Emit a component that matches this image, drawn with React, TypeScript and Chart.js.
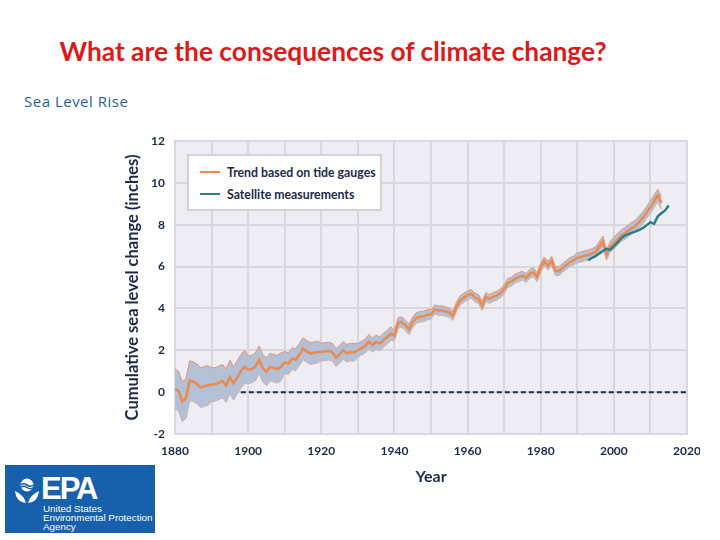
import React, { useEffect, useRef } from "react";
import { Chart, registerables } from "chart.js";

Chart.register(...registerables);

// Annual sea level trend from tide gauges, 1880–2013 (inches)
const TREND_START_YEAR = 1880;
const trendValues = [
  0.15, 0.05, -0.45, -0.3, 0.55, 0.5, 0.4, 0.22, 0.28, 0.32,
  0.36, 0.37, 0.45, 0.52, 0.32, 0.73, 0.42, 0.7, 1.0, 1.2,
  1.08, 1.1, 1.22, 1.55, 1.15, 0.97, 1.2, 1.15, 1.1, 1.22,
  1.42, 1.36, 1.6, 1.55, 1.8, 2.08, 1.95, 1.85, 1.88, 1.92,
  1.92, 1.94, 1.96, 1.92, 1.66, 1.8, 2.0, 1.86, 1.92, 1.9,
  2.0, 2.1, 2.2, 2.42, 2.25, 2.4, 2.32, 2.48, 2.62, 2.8,
  2.7, 3.3, 3.35, 3.2, 3.0, 3.35, 3.55, 3.6, 3.62, 3.7,
  3.72, 3.95, 3.9, 3.9, 3.85, 3.8, 3.65, 4.1, 4.38, 4.52,
  4.62, 4.7, 4.52, 4.45, 4.12, 4.55, 4.46, 4.55, 4.62, 4.72,
  4.92, 5.22, 5.28, 5.43, 5.5, 5.57, 5.45, 5.65, 5.73, 5.5,
  5.95, 6.25, 6.05, 6.28, 5.8, 5.78, 5.95, 6.08, 6.22, 6.3,
  6.42, 6.45, 6.52, 6.55, 6.62, 6.7, 6.95, 7.22, 6.55, 6.95,
  7.12, 7.3, 7.48, 7.58, 7.72, 7.85, 7.95, 8.15, 8.35, 8.6,
  8.85, 9.12, 9.4, 9.05,
];

// Half-width of the uncertainty band for each decade (1880s … 2010s)
const bandHalfWidthByDecade = [0.95, 0.8, 0.66, 0.52, 0.42, 0.33, 0.25, 0.22, 0.21, 0.21, 0.21, 0.24, 0.28, 0.3];

// Satellite altimetry, 1993–2015 (inches)
const SAT_START_YEAR = 1993;
const satelliteValues = [
  6.3, 6.42, 6.5, 6.62, 6.75, 6.85, 6.8, 6.98, 7.15, 7.35,
  7.48, 7.55, 7.62, 7.68, 7.75, 7.85, 7.98, 8.12, 8.04, 8.4,
  8.55, 8.68, 8.92,
];

// Reference zero line
const zeroLineYears = [1898, 2020];

const xTickLabels = ["1880", "1900", "1920", "1940", "1960", "1980", "2000", "2020"];
const yTickLabels = ["-2", "0", "2", "4", "6", "8", "10", "12"];

const NAVY = "#1c2a4c";
const ORANGE = "#ec8a4e";
const TEAL = "#2b7f8d";
const BAND_FILL = "#b3c0d5";
const BAND_EDGE = "rgba(228,140,100,0.85)";
const GRID = "#d9d7de";
const PLOT_BG = "#efedf4";

const plotBackground = {
  id: "plotBackground",
  beforeDraw(chart: any) {
    const { ctx, chartArea } = chart;
    if (!chartArea) return;
    ctx.save();
    ctx.fillStyle = PLOT_BG;
    ctx.fillRect(chartArea.left, chartArea.top, chartArea.right - chartArea.left, chartArea.bottom - chartArea.top);
    ctx.restore();
  },
};

function SeaLevelChart() {
  const canvasRef = useRef<HTMLCanvasElement | null>(null);

  useEffect(() => {
    if (!canvasRef.current) return;

    const trend = trendValues.map((v, i) => ({ x: TREND_START_YEAR + i, y: v }));
    const upper = trendValues.map((v, i) => ({
      x: TREND_START_YEAR + i,
      y: v + bandHalfWidthByDecade[Math.floor(i / 10)],
    }));
    const lower = trendValues.map((v, i) => ({
      x: TREND_START_YEAR + i,
      y: v - bandHalfWidthByDecade[Math.floor(i / 10)],
    }));
    const satellite = satelliteValues.map((v, i) => ({ x: SAT_START_YEAR + i, y: v }));
    const zero = zeroLineYears.map((yr) => ({ x: yr, y: 0 }));

    const tickFont = { family: "Lato", weight: "bold" as const, size: 12 };

    const chart = new Chart(canvasRef.current, {
      type: "line",
      data: {
        datasets: [
          {
            label: "upper",
            data: upper,
            borderColor: BAND_EDGE,
            borderWidth: 1,
            backgroundColor: BAND_FILL,
            fill: "+1",
            pointRadius: 0,
            tension: 0,
            order: 10,
          },
          {
            label: "lower",
            data: lower,
            borderColor: BAND_EDGE,
            borderWidth: 1,
            fill: false,
            pointRadius: 0,
            tension: 0,
            order: 10,
          },
          {
            label: "Trend based on tide gauges",
            data: trend,
            borderColor: ORANGE,
            borderWidth: 2.5,
            fill: false,
            pointRadius: 0,
            tension: 0,
            order: 2,
          },
          {
            label: "Satellite measurements",
            data: satellite,
            borderColor: TEAL,
            borderWidth: 2.5,
            fill: false,
            pointRadius: 0,
            tension: 0,
            order: 1,
          },
          {
            label: "zero",
            data: zero,
            borderColor: NAVY,
            borderWidth: 2,
            borderDash: [5, 3],
            fill: false,
            pointRadius: 0,
            order: 3,
          },
        ],
      },
      options: {
        responsive: false,
        animation: false,
        events: [],
        layout: { padding: { left: 0, top: 11, right: 13, bottom: 0 } },
        plugins: {
          legend: { display: false },
          tooltip: { enabled: false },
        },
        scales: {
          x: {
            type: "linear",
            min: 1880,
            max: 2020,
            ticks: {
              stepSize: 10,
              padding: 10,
              color: NAVY,
              font: tickFont,
              maxRotation: 0,
              autoSkip: false,
              callback: (value: any) => {
                const s = String(value);
                return xTickLabels.includes(s) ? s : "";
              },
            },
            grid: { color: GRID, lineWidth: 2, drawTicks: false },
            border: { display: true, color: GRID, width: 2 },
            title: {
              display: true,
              text: "Year",
              color: NAVY,
              font: { family: "Lato", weight: "bold", size: 16 },
              padding: { top: 4, bottom: 4 },
            },
            afterFit: (scale: any) => {
              scale.height = 56;
              scale.paddingLeft = 0;
              scale.paddingRight = 0;
            },
          },
          y: {
            min: -2,
            max: 12,
            ticks: {
              stepSize: 2,
              padding: 10,
              color: NAVY,
              font: tickFont,
              callback: (value: any) => {
                const s = String(value);
                return yTickLabels.includes(s) ? s : "";
              },
            },
            grid: { color: GRID, lineWidth: 2, drawTicks: false },
            border: { display: true, color: GRID, width: 2 },
            title: {
              display: true,
              text: "Cumulative sea level change (inches)",
              color: NAVY,
              font: { family: "Lato", weight: "bold", size: 16.5 },
              padding: { top: 3, bottom: 3 },
            },
            afterFit: (scale: any) => {
              scale.width = 55;
              scale.paddingTop = 0;
              scale.paddingBottom = 0;
            },
          },
        },
      },
      plugins: [plotBackground],
    });

    return () => chart.destroy();
  }, []);

  return <canvas ref={canvasRef} width={580} height={360} />;
}

function LegendBox() {
  const row = (color: string, text: string, top: number) => (
    <div style={{ position: "absolute", left: 11, top, display: "flex", alignItems: "center", height: 14 }}>
      <div style={{ width: 20, height: 2.5, background: color }} />
      <span
        style={{
          marginLeft: 7,
          fontFamily: "Lato",
          fontWeight: 700,
          fontSize: 12.3,
          color: NAVY,
          whiteSpace: "nowrap",
        }}
      >
        {text}
      </span>
    </div>
  );
  return (
    <div
      style={{
        position: "absolute",
        left: 187,
        top: 154,
        width: 195,
        height: 57,
        background: "#ffffff",
        border: "2px solid #d4d2d8",
        boxSizing: "border-box",
      }}
    >
      {row(ORANGE, "Trend based on tide gauges", 9)}
      {row(TEAL, "Satellite measurements", 31)}
    </div>
  );
}

function EpaLogo() {
  return (
    <div
      style={{
        position: "absolute",
        left: 5,
        top: 465,
        width: 150,
        height: 68,
        background: "#1760ab",
        color: "#ffffff",
        overflow: "hidden",
      }}
    >
      <svg width={26} height={26} viewBox="0 0 26 26" style={{ position: "absolute", left: 9, top: 13 }}>
        <circle cx={13} cy={7} r={6.5} fill="#ffffff" />
        <path d="M6.5 7 Q9.5 4.5 13 7 T19.5 7" stroke="#1760ab" strokeWidth={1.6} fill="none" />
        <path d="M6.5 9.5 Q9.5 7 13 9.5 T19.5 9.5" stroke="#1760ab" strokeWidth={1.4} fill="none" />
        <path d="M1 13 Q2 24 12 25 Q10 17 1 13 Z" fill="#ffffff" />
        <path d="M25 13 Q24 24 14 25 Q16 17 25 13 Z" fill="#ffffff" />
      </svg>
      <div
        style={{
          position: "absolute",
          left: 36,
          top: 8,
          fontFamily: "Liberation Sans",
          fontWeight: 700,
          fontSize: 31,
          lineHeight: "31px",
          letterSpacing: -2,
        }}
      >
        EPA
      </div>
      <div
        style={{
          position: "absolute",
          left: 38,
          top: 39,
          fontFamily: "Liberation Sans",
          fontSize: 9.8,
          lineHeight: "9px",
          whiteSpace: "nowrap",
        }}
      >
        <div>United States</div>
        <div>Environmental Protection</div>
        <div>Agency</div>
      </div>
    </div>
  );
}

export default function App() {
  return (
    <div style={{ position: "absolute", left: 0, top: 0, width: 720, height: 540, background: "#ffffff" }}>
      <div
        style={{
          position: "absolute",
          left: 0,
          width: 666,
          top: 35,
          textAlign: "center",
          fontFamily: "Lato",
          fontWeight: 700,
          fontSize: 26.3,
          color: "#dc1a1a",
          whiteSpace: "nowrap",
        }}
      >
        What are the consequences of climate change?
      </div>
      <div
        style={{
          position: "absolute",
          left: 24,
          top: 91,
          fontFamily: "Open Sans",
          fontSize: 15,
          letterSpacing: 0.5,
          color: "#1f5f9f",
          whiteSpace: "nowrap",
        }}
      >
        Sea Level Rise
      </div>
      <div style={{ position: "absolute", left: 120, top: 130, width: 580, height: 360 }}>
        <SeaLevelChart />
      </div>
      <LegendBox />
      <EpaLogo />
    </div>
  );
}
